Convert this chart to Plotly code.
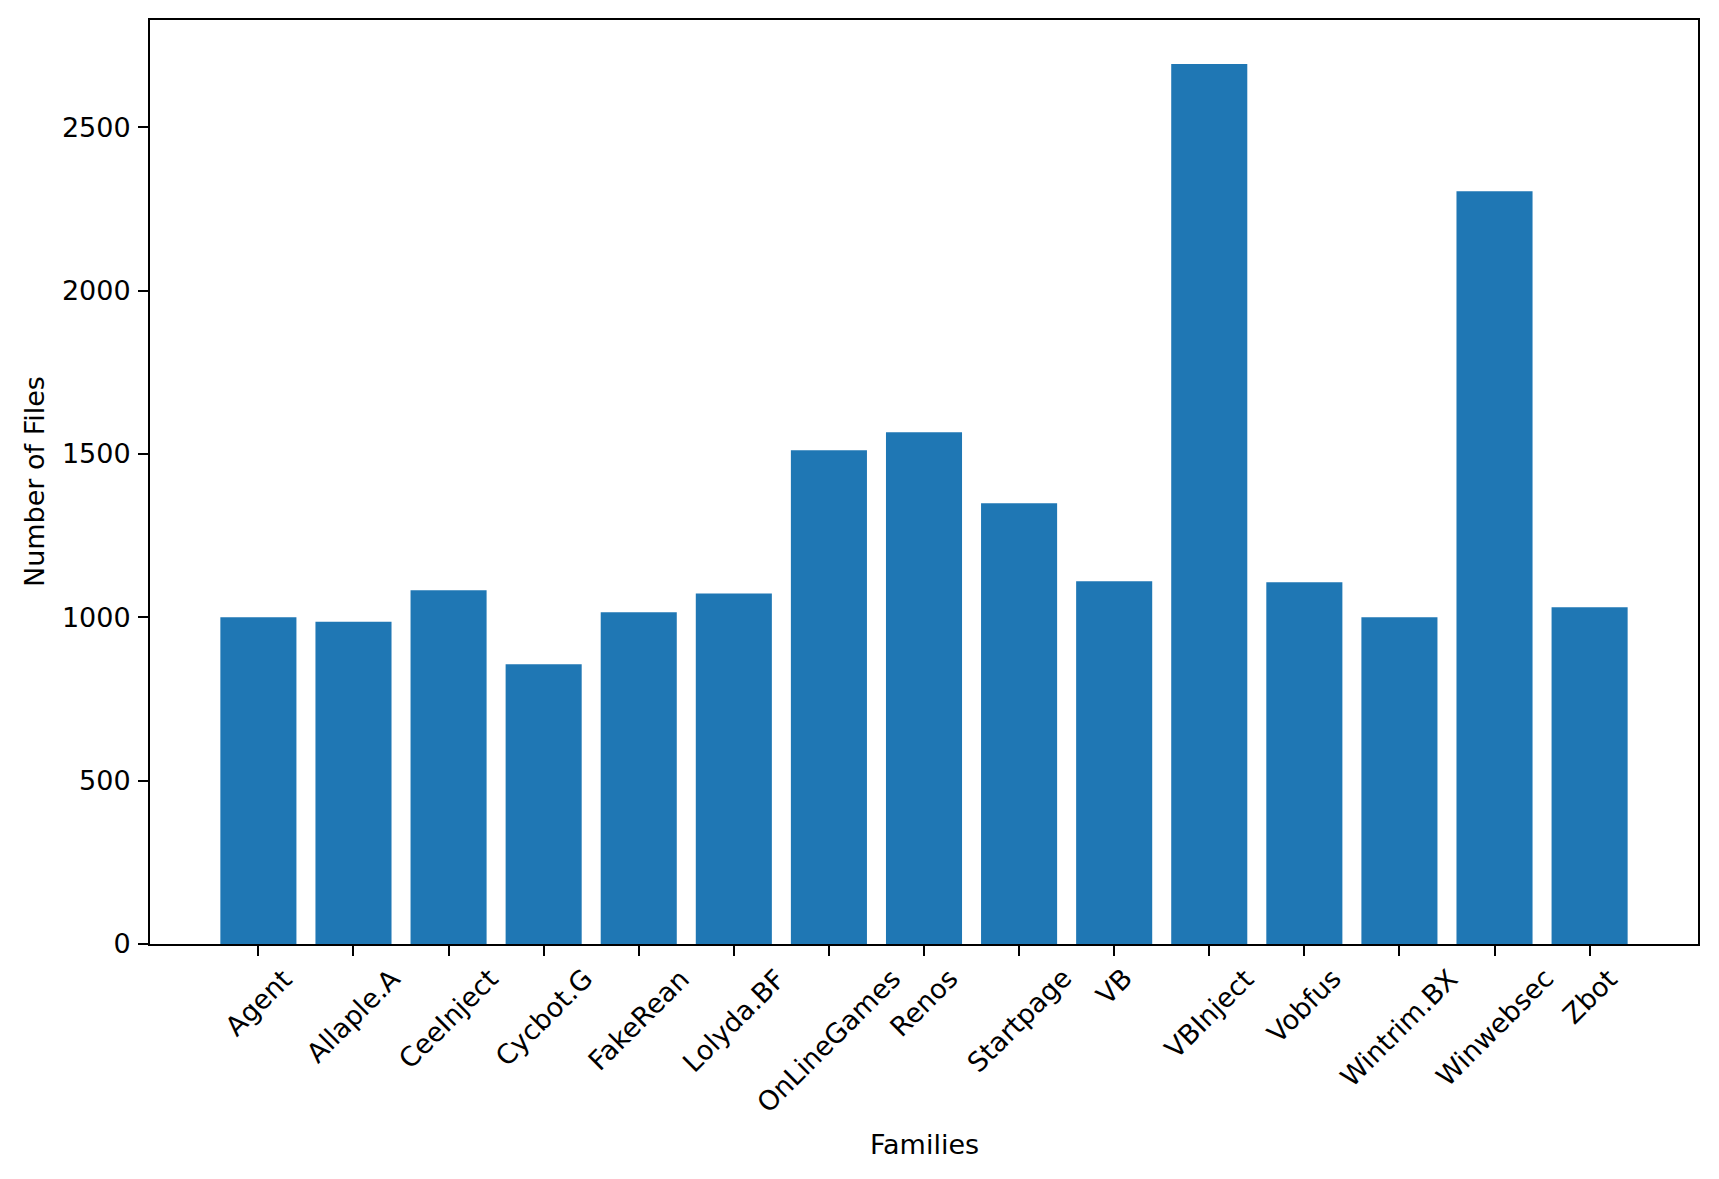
import plotly.graph_objects as go

families = ["Agent", "Allaple.A", "CeeInject", "Cycbot.G", "FakeRean", "Lolyda.BF",
            "OnLineGames", "Renos", "Startpage", "VB", "VBInject", "Vobfus",
            "Wintrim.BX", "Winwebsec", "Zbot"]
num_files = [1000, 986, 1083, 856, 1015, 1073, 1511, 1566, 1349, 1110, 2693, 1107,
             1000, 2304, 1031]
y_ticks = [0, 500, 1000, 1500, 2000, 2500]

FONT = "DejaVu Sans"
FS = 27

W, H = 1719, 1179
# page body has an 8px default margin; compensate
L, R, T, B = 142, 29, 12, 243
plot_h = H - T - B
plot_w = W - L - R

fig = go.Figure(go.Bar(x=families, y=num_files, marker=dict(color="#1f77b4", line=dict(width=0)),
                       showlegend=False))

annotations = []
for fam in families:
    annotations.append(dict(x=fam, y=0, xref="x", yref="paper", text=fam, showarrow=False,
                            textangle=-45, xanchor="center", yanchor="top", yshift=-16,
                            font=dict(family=FONT, size=FS, color="black")))
annotations.append(dict(x=0.5, y=-200 / plot_h, xref="paper", yref="paper", text="Families",
                        showarrow=False, xanchor="center", yanchor="middle",
                        font=dict(family=FONT, size=FS, color="black")))
annotations.append(dict(x=-116 / plot_w, y=0.5, xref="paper", yref="paper", text="Number of Files",
                        showarrow=False, xanchor="center", yanchor="middle", textangle=-90,
                        font=dict(family=FONT, size=FS, color="black")))

fig.update_layout(
    width=W, height=H,
    margin=dict(l=L, r=R, t=T, b=B, autoexpand=False),
    paper_bgcolor="white", plot_bgcolor="white",
    bargap=0.2,
    font=dict(family=FONT, size=FS, color="black"),
    annotations=annotations,
    xaxis=dict(range=[-1.14, 15.14], showgrid=False, zeroline=False, showline=True, mirror=True,
               linecolor="black", linewidth=2, ticks="outside", ticklen=10, tickwidth=2,
               tickcolor="black", showticklabels=False),
    yaxis=dict(range=[0, 2828], showgrid=False, zeroline=False, showline=True, mirror=True,
               linecolor="black", linewidth=2, ticks="outside", ticklen=10, tickwidth=2,
               tickcolor="black", tickvals=y_ticks, ticktext=[str(v) for v in y_ticks],
               ticklabelstandoff=2,
               tickfont=dict(family=FONT, size=FS, color="black")),
)

fig.write_html("out.html")
